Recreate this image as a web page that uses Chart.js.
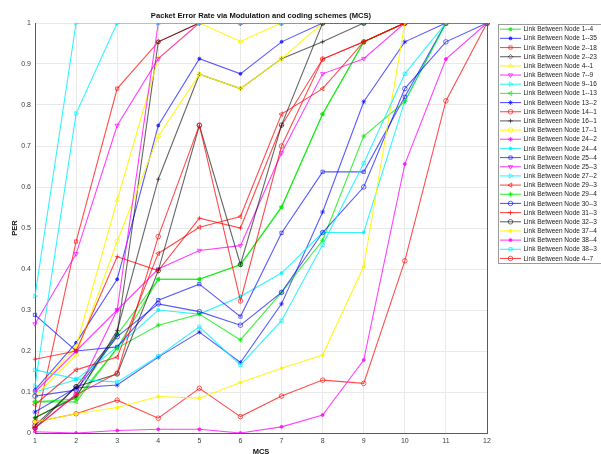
<!DOCTYPE html>
<html>
<head>
<meta charset="utf-8">
<script src="https://cdn.jsdelivr.net/npm/chart.js@4.4.1/dist/chart.umd.min.js"></script>
<style>
  html, body { margin: 0; padding: 0; background: #fff; }
  canvas { display: block; }
</style>
</head>
<body>
<canvas id="perChart" width="601" height="454"></canvas>
<script>
// MCS index on the x axis
const mcs = ['1', '2', '3', '4', '5', '6', '7', '8', '9', '10', '11', '12'];
const yTicks = [0, 0.1, 0.2, 0.3, 0.4, 0.5, 0.6, 0.7, 0.8, 0.9, 1];

// PER per link
const link1_4   = [0.037, 0.090, 0.240, 0.375, 0.375, 0.410, 0.550, 0.778, 0.954, 1, 1, 1];
const link1_35  = [0.105, 0.220, 0.375, 0.750, 0.913, 0.876, 0.954, 1, 1, 1, 1, 1];
const link2_18  = [0.012, 0.467, 0.840, 0.954, 1, 1, 1, 1, 1, 1, 1, 1];
const link2_23  = [0.012, 0.113, 0.240, 0.954, 1, 1, 1, 1, 1, 1, 1, 1];
const link4_1   = [0.100, 0.210, 0.568, 0.913, 1, 0.955, 1, 1, 1, 1, 1, 1];
const link7_9   = [0.266, 0.437, 0.750, 0.913, 1, 1, 1, 1, 1, 1, 1, 1];
const link9_16  = [0.334, 1, 1, 1, 1, 1, 1, 1, 1, 1, 1, 1];
const link1_13  = [0.076, 0.076, 0.207, 0.375, 0.375, 0.411, 0.552, 0.778, 0.954, 1, 1, 1];
const link13_2  = [0.051, 0.110, 0.117, 0.185, 0.246, 0.172, 0.315, 0.539, 0.808, 0.954, 1, 1];
const link14_1  = [0.027, 0.047, 0.080, 0.036, 0.109, 0.040, 0.090, 0.129, 0.121, 0.420, 0.810, 1];
const link16_1  = [0.037, 0.087, 0.250, 0.619, 0.875, 0.840, 0.913, 0.954, 1, 1, 1, 1];
const link17_1  = [0.090, 0.190, 0.467, 0.724, 0.875, 0.840, 0.913, 1, 1, 1, 1, 1];
const link24_2  = [0.012, 0.095, 0.300, 1, 1, 1, 1, 1, 1, 1, 1, 1];
const link24_4  = [0.100, 0.130, 0.210, 0.300, 0.290, 0.333, 0.390, 0.489, 0.489, 0.810, 1, 1];
const link25_4  = [0.288, 0.200, 0.210, 0.324, 0.363, 0.284, 0.488, 0.637, 0.637, 0.820, 1, 1];
const link25_3  = [0.100, 0.200, 0.300, 0.400, 0.445, 0.457, 0.683, 0.876, 0.913, 1, 1, 1];
const link27_2  = [0.115, 0.779, 1, 1, 1, 1, 1, 1, 1, 1, 1, 1];
const link29_3  = [0.069, 0.154, 0.185, 0.438, 0.502, 0.528, 0.778, 0.840, 0.954, 1, 1, 1];
const link29_4  = [0.076, 0.083, 0.207, 0.263, 0.290, 0.227, 0.343, 0.470, 0.724, 0.808, 1, 1];
const link30_3  = [0.090, 0.105, 0.235, 0.315, 0.296, 0.263, 0.343, 0.489, 0.600, 0.840, 0.954, 1];
const link31_3  = [0.180, 0.200, 0.430, 0.396, 0.524, 0.500, 0.750, 0.912, 0.954, 1, 1, 1];
const link32_3  = [0.018, 0.113, 0.144, 0.396, 0.750, 0.411, 0.751, 1, 1, 1, 1, 1];
const link37_4  = [0.027, 0.047, 0.062, 0.089, 0.085, 0.123, 0.158, 0.190, 0.406, 1, 1, 1];
const link38_4  = [0.003, 0.000, 0.006, 0.009, 0.009, 0.000, 0.015, 0.044, 0.178, 0.656, 0.912, 1];
const link38_3  = [0.154, 0.132, 0.124, 0.187, 0.259, 0.166, 0.274, 0.459, 0.658, 0.876, 1, 1];
const link4_7   = [0.012, 0.093, 0.146, 0.479, 0.751, 0.322, 0.700, 0.912, 0.954, 1, 1, 1];

const linkNames = [
  'Link Between Node 1--4', 'Link Between Node 1--35', 'Link Between Node 2--18', 'Link Between Node 2--23',
  'Link Between Node 4--1', 'Link Between Node 7--9', 'Link Between Node 9--16', 'Link Between Node 1--13',
  'Link Between Node 13--2', 'Link Between Node 14--1', 'Link Between Node 16--1', 'Link Between Node 17--1',
  'Link Between Node 24--2', 'Link Between Node 24--4', 'Link Between Node 25--4', 'Link Between Node 25--3',
  'Link Between Node 27--2', 'Link Between Node 29--3', 'Link Between Node 29--4', 'Link Between Node 30--3',
  'Link Between Node 31--3', 'Link Between Node 32--3', 'Link Between Node 37--4', 'Link Between Node 38--4',
  'Link Between Node 38--3', 'Link Between Node 4--7'
];
const linkValues = [
  link1_4, link1_35, link2_18, link2_23, link4_1, link7_9, link9_16, link1_13,
  link13_2, link14_1, link16_1, link17_1, link24_2, link24_4, link25_4, link25_3,
  link27_2, link29_3, link29_4, link30_3, link31_3, link32_3, link37_4, link38_4,
  link38_3, link4_7
];

// matlab-like colour / marker per line
const C = {
  g: 'rgba(0,235,0,0.75)', b: 'rgba(0,0,255,0.65)', r: 'rgba(255,0,0,0.7)', k: 'rgba(0,0,0,0.6)',
  y: 'rgba(255,245,0,0.9)', m: 'rgba(255,0,255,0.75)', c: 'rgba(0,240,255,0.8)'
};
const M = {
  dot:   { pointStyle: 'circle', r: 1.5, fill: true, rot: 0 },
  sq:    { pointStyle: 'rect', r: 2.3, fill: false, rot: 0 },
  dia:   { pointStyle: 'rectRot', r: 2.3, fill: false, rot: 0 },
  up:    { pointStyle: 'triangle', r: 2.5, fill: false, rot: 0 },
  down:  { pointStyle: 'triangle', r: 2.5, fill: false, rot: 180 },
  right: { pointStyle: 'triangle', r: 2.5, fill: false, rot: 90 },
  left:  { pointStyle: 'triangle', r: 2.5, fill: false, rot: -90 },
  star:  { pointStyle: 'star', r: 2.5, fill: false, rot: 0 },
  plus:  { pointStyle: 'cross', r: 2.3, fill: false, rot: 0 },
  circ:  { pointStyle: 'circle', r: 2.3, fill: false, rot: 0 }
};
const lineStyles = [
  [C.g, M.dot], [C.b, M.dot], [C.r, M.sq], [C.k, M.dia], [C.y, M.up], [C.m, M.down],
  [C.c, M.right], [C.g, M.left], [C.b, M.star], [C.r, M.circ], [C.k, M.plus], [C.y, M.circ],
  [C.m, M.star], [C.c, M.dot], [C.b, M.sq], [C.m, M.down], [C.c, M.right], [C.r, M.left],
  [C.g, M.star], [C.b, M.circ], [C.r, M.plus], [C.k, M.circ], [C.y, M.dot], [C.m, M.dot],
  [C.c, M.sq], [C.r, M.circ]
];

Chart.defaults.font.family = "'Liberation Sans', Arial, sans-serif";

const datasets = linkValues.map((vals, i) => {
  const col = lineStyles[i][0], mk = lineStyles[i][1];
  return {
    label: linkNames[i],
    data: vals,
    borderColor: col,
    backgroundColor: col,
    borderWidth: 1.1,
    pointStyle: mk.pointStyle,
    pointRadius: mk.r,
    pointRotation: mk.rot,
    pointBorderColor: col,
    pointBorderWidth: 0.9,
    pointBackgroundColor: mk.fill ? col : 'rgba(0,0,0,0)',
    tension: 0,
    order: -i
  };
});

const frameAndLabels = {
  id: 'frameAndLabels',
  afterDraw(chart) {
    const ctx = chart.ctx, a = chart.chartArea;
    ctx.save();
    // box on
    ctx.strokeStyle = '#5a5a5a';
    ctx.lineWidth = 1;
    ctx.beginPath();
    ctx.moveTo(a.right + 0.5, a.top);
    ctx.lineTo(a.right + 0.5, a.bottom);
    ctx.stroke();

    ctx.fillStyle = '#111';
    ctx.textAlign = 'center';
    ctx.textBaseline = 'middle';
    ctx.font = "bold 7.6px 'Liberation Sans', Arial, sans-serif";
    ctx.fillText('Packet Error Rate via Modulation and coding schemes (MCS)', (a.left + a.right) / 2, 15.5);

    ctx.font = "bold 7.5px 'Liberation Sans', Arial, sans-serif";
    ctx.textBaseline = 'top';
    ctx.fillText('MCS', (a.left + a.right) / 2, 448);

    ctx.translate(15, (a.top + a.bottom) / 2);
    ctx.rotate(-Math.PI / 2);
    ctx.textBaseline = 'middle';
    ctx.fillText('PER', 0, 0);
    ctx.restore();

    // legend box
    ctx.save();
    const bx = 498, by = 24, bh = 239, step = 9.17;
    ctx.fillStyle = '#fff';
    ctx.fillRect(bx, by, 130, bh);
    ctx.strokeStyle = '#9a9a9a';
    ctx.lineWidth = 1;
    ctx.strokeRect(bx + 0.5, by + 0.5, 130, bh);
    chart.data.datasets.forEach((ds, i) => {
      const yy = 29.2 + i * step;
      ctx.strokeStyle = ds.borderColor;
      ctx.lineWidth = 1.1;
      ctx.beginPath();
      ctx.moveTo(500, yy);
      ctx.lineTo(521, yy);
      ctx.stroke();
      ctx.fillStyle = ds.pointBackgroundColor;
      ctx.lineWidth = 0.9;
      if (Chart.helpers && Chart.helpers.drawPoint) {
        Chart.helpers.drawPoint(ctx, {
          pointStyle: ds.pointStyle, rotation: ds.pointRotation,
          radius: ds.pointRadius, borderWidth: 0.9
        }, 510.5, yy);
      }
      ctx.fillStyle = '#1a1a1a';
      ctx.font = "6.5px 'Liberation Sans', Arial, sans-serif";
      ctx.textAlign = 'left';
      ctx.textBaseline = 'middle';
      ctx.fillText(ds.label, 523.5, yy + 0.3);
    });
    ctx.restore();
  }
};

new Chart(document.getElementById('perChart'), {
  type: 'line',
  data: { labels: mcs, datasets: datasets },
  options: {
    responsive: false,
    animation: false,
    layout: { padding: { left: 0, right: 114, top: 23, bottom: 0 } },
    plugins: {
      legend: { display: false },
      title: { display: false },
      tooltip: { enabled: false }
    },
    scales: {
      x: {
        type: 'category',
        offset: false,
        grid: { color: '#e9e9e9', lineWidth: 1, drawTicks: false },
        border: { color: '#5a5a5a', width: 1 },
        ticks: { padding: 4, color: '#404040', font: { size: 7 }, maxRotation: 0, autoSkip: false },
        afterFit(s) { s.height = 21; }
      },
      y: {
        min: 0,
        max: 1,
        grid: { color: '#e9e9e9', lineWidth: 1, drawTicks: false },
        border: { color: '#5a5a5a', width: 1 },
        afterBuildTicks(s) { s.ticks = yTicks.map(v => ({ value: v })); },
        ticks: {
          padding: 4, color: '#404040', font: { size: 7 },
          callback: v => String(Number(v.toFixed(1)))
        },
        afterFit(s) { s.width = 35; }
      }
    }
  },
  plugins: [frameAndLabels]
});
</script>
</body>
</html>
